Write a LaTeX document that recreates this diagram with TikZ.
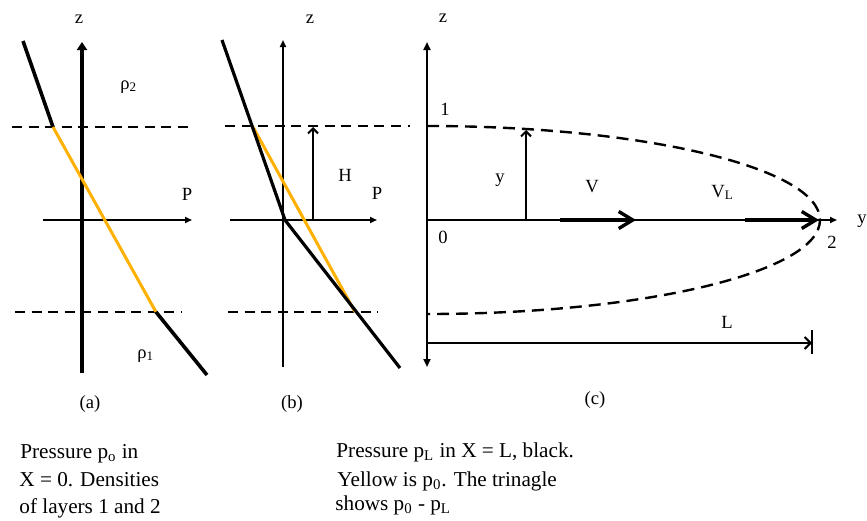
\documentclass[tikz,border=0pt]{standalone}
\usepackage{fontspec}
\setmainfont{Liberation Serif}
\usetikzlibrary{arrows.meta}
\definecolor{amber}{RGB}{255,176,0}

\begin{document}
\begin{tikzpicture}[
  x=0.5pt, y=0.5pt,
  every node/.style={font=\fontsize{9.3}{11}\selectfont, inner sep=0pt},
  axarr/.style={-{Triangle[length=3.5pt,width=3pt]}, line width=0.85pt},
  dashlev/.style={line width=1.2pt, dash pattern=on 5pt off 3.3pt},
  prof/.style={line width=1.8pt, line join=round},
  yel/.style={amber, line width=1.5pt},
  barb/.style={-{Straight Barb[length=2.5pt,width=5pt]}, line width=1pt},
  vel/.style={-{Straight Barb[length=7pt,width=8.5pt]}, line width=1.7pt},
  note/.style={font=\fontsize{10.6}{13.75}\selectfont, anchor=base west}
]
  \useasboundingbox (0,0) rectangle (867,-520);

  % (a) two layers, pressure at X = 0
  \coordinate (Za0) at (82,-373);
  \coordinate (Za1) at (82,-42);
  \coordinate (Pa0) at (43,-220);
  \coordinate (Pa1) at (192,-220);
  \coordinate (A1) at (23,-41);
  \coordinate (A2) at (53,-127);
  \coordinate (A3) at (156,-312);
  \coordinate (A4) at (207,-375);

  \draw[dashlev] (12,-127) -- (193,-127);
  \draw[dashlev] (15,-312) -- (182,-312);
  \draw[-{Triangle[length=4pt,width=5pt]}, line width=1.6pt] (Za0) -- (Za1);
  \draw[axarr] (Pa0) -- (Pa1);
  \draw[prof] (A1) -- (A2);
  \draw[yel] (A2) -- (A3);
  \draw[prof] (A3) -- (A4);

  \node (za) [anchor=base] at (79,-23) {z};
  \node (Pa) [anchor=base] at (187,-200) {P};
  \node (rho2) [anchor=base west] at (120,-89) {ρ\textsubscript{2}};
  \node (rho1) [anchor=base west] at (137,-358) {ρ\textsubscript{1}};
  \node (la) [anchor=base] at (90,-408) {(a)};

  % (b) pressure at X = L
  \coordinate (Zb0) at (283,-367);
  \coordinate (Zb1) at (283,-40);
  \coordinate (Pb0) at (230,-220);
  \coordinate (Pb1) at (377,-220);
  \coordinate (B1) at (222,-40);
  \coordinate (B2) at (285,-220);
  \coordinate (B3) at (400,-368);
  \coordinate (Y1) at (253,-127);
  \coordinate (Y2) at (355,-312);
  \coordinate (H0) at (313,-220);
  \coordinate (H1) at (313,-127);

  \draw[dashlev] (225,-126) -- (410,-126);
  \draw[dashlev] (228,-312) -- (378,-312);
  \draw[axarr, line width=1pt] (Zb0) -- (Zb1);
  \draw[axarr] (Pb0) -- (Pb1);
  \draw[yel] (Y1) -- (Y2);
  \draw[prof, line width=1.6pt] (B1) -- (B2) -- (B3);
  \draw[barb] (H0) -- (H1);

  \node (zb) [anchor=base] at (310,-23) {z};
  \node (Pb) [anchor=base] at (377,-199) {P};
  \node (Hb) [anchor=base] at (345,-181) {H};
  \node (lb) [anchor=base] at (292,-408) {(b)};

  % (c) interface and velocities
  \coordinate (Zc0) at (427,-367);
  \coordinate (Zc1) at (427,-42);
  \coordinate (O) at (427,-220);
  \coordinate (Ye) at (837,-220);
  \coordinate (Yv0) at (526,-220);
  \coordinate (Yv1) at (526,-130);
  \coordinate (V0) at (560,-220);
  \coordinate (V1) at (636,-220);
  \coordinate (W0) at (745,-220);
  \coordinate (W1) at (819,-220);
  \coordinate (L0) at (427,-343);
  \coordinate (L1) at (812,-343);

  \draw[{Triangle[length=4pt,width=3.5pt]}-{Triangle[length=4pt,width=3.5pt]}, line width=1.3pt] (Zc0) -- (Zc1);
  \draw[axarr] (O) -- (Ye);
  \draw[dashlev, dash pattern=on 6pt off 3.5pt] (427,-126) arc[start angle=90, end angle=-90, x radius=196.5pt, y radius=47pt];
  \draw[barb] (Yv0) -- (Yv1);
  \draw[vel] (V0) -- (V1);
  \draw[vel] (W0) -- (W1);
  \draw[-{Straight Barb[length=3pt,width=6pt]}, line width=1pt] (L0) -- (L1);
  \draw[line width=1.3pt] (812,-330) -- (812,-354);

  \node (zc) [anchor=base] at (443,-22) {z};
  \node (one) [anchor=base] at (445,-115) {1};
  \node (zero) [anchor=base] at (443,-243) {0};
  \node (two) [anchor=base] at (832,-248) {2};
  \node (ylab) [anchor=base west] at (857,-223) {y};
  \node (yv) [anchor=base] at (500,-182) {y};
  \node (V) [anchor=base] at (592,-192) {V};
  \node (VL) [anchor=base west] at (711,-197) {V\textsubscript{L}};
  \node (L) [anchor=base] at (727,-328) {L};
  \node (lc) [anchor=base] at (595,-404) {(c)};

  % captions
  \node[note] (n1) at (20,-458) {Pressure p\textsubscript{o} in};
  \node[note] (n2) at (19,-486) {X = 0. Densities};
  \node[note] (n3) at (19,-513) {of layers 1 and 2};
  \node[note] (m1) at (336,-457) {Pressure p\textsubscript{L} in X = L, black.};
  \node[note] (m2) at (337,-486) {Yellow is p\textsubscript{0}. The trinagle};
  \node[note] (m3) at (335,-510) {shows p\textsubscript{0} - p\textsubscript{L}};
\end{tikzpicture}
\end{document}
